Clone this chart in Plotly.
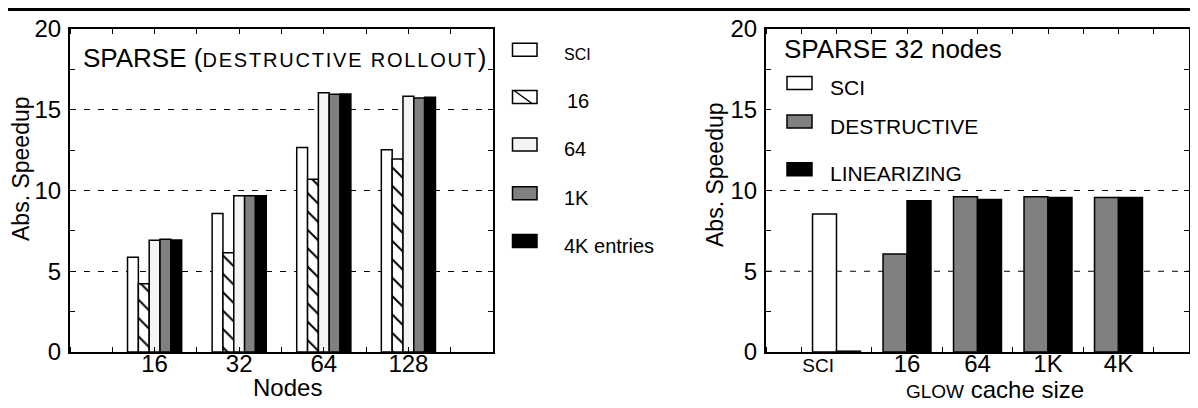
import plotly.graph_objects as go

W, H = 1198, 408
OFF = 8  # the page body adds an 8px margin around the figure
FONT = "Liberation Sans, Arial, sans-serif"

# ---------------- data ----------------
left_nodes = ["16", "32", "64", "128"]
left_names = ["SCI", "16", "64", "1K", "4K entries"]
left_sci = [5.86, 8.57, 12.67, 12.53]
left_g16 = [4.22, 6.15, 10.70, 11.95]
left_g64 = [6.92, 9.67, 16.05, 15.84]
left_g1k = [6.98, 9.67, 15.96, 15.73]
left_g4k = [6.94, 9.67, 15.98, 15.78]

right_cats = ["SCI", "16", "64", "1K", "4K"]
right_names = ["SCI", "DESTRUCTIVE", "LINEARIZING"]
right_sci = [8.54]
right_destructive = [6.07, 9.61, 9.61, 9.57]
right_linearizing = [0.05, 9.36, 9.44, 9.57, 9.57]

y_ticks = [0, 5, 10, 15, 20]
left_grid = [5, 10, 15]
right_grid = [5, 10]

# ---------------- helpers (page pixel -> paper) ----------------
def px(x):
    return (x - OFF) / W

def py(y):
    return 1 - (y - OFF) / H

fig = go.Figure()

# ---------------- left chart ----------------
lx = list(range(len(left_nodes)))
left_vals = [left_sci, left_g16, left_g64, left_g1k, left_g4k]
left_colors = ["white", "white", "#f4f4f4", "#808080", "black"]
group_w = 0.64
bw = group_w / len(left_vals)
for i, (name, vals, col) in enumerate(zip(left_names, left_vals, left_colors)):
    marker = dict(color=col, line=dict(color="black", width=1.5))
    if i == 1:
        marker["pattern"] = dict(shape="\\", fgcolor="black", bgcolor="white",
                                 size=13, solidity=0.15, fillmode="replace")
    fig.add_trace(go.Bar(x=lx, y=vals, name=name, width=bw,
                         offset=-group_w / 2 + i * bw, marker=marker,
                         xaxis="x", yaxis="y", showlegend=False))

# ---------------- right chart ----------------
rx = list(range(len(right_cats)))
rbw = 0.34
fig.add_trace(go.Bar(x=rx[:1], y=right_sci, name=right_names[0], width=rbw, offset=-rbw,
                     marker=dict(color="white", line=dict(color="black", width=1.5)),
                     xaxis="x2", yaxis="y2", showlegend=False))
fig.add_trace(go.Bar(x=rx[1:], y=right_destructive, name=right_names[1], width=rbw, offset=-rbw,
                     marker=dict(color="#808080", line=dict(color="black", width=1.5)),
                     xaxis="x2", yaxis="y2", showlegend=False))
fig.add_trace(go.Bar(x=rx, y=right_linearizing, name=right_names[2], width=rbw, offset=0,
                     marker=dict(color="black", line=dict(color="black", width=1.5)),
                     xaxis="x2", yaxis="y2", showlegend=False))

ydom = [py(352), py(29)]
tickfont = dict(family=FONT, size=24, color="black")

common_x = dict(showline=True, linecolor="black", linewidth=2, mirror="ticks",
                ticks="", showgrid=False, zeroline=False, tickfont=tickfont,
                automargin=False, ticklabelstandoff=-11,
                minor=dict(dtick=0.5, tick0=-0.5, ticks="inside", ticklen=5,
                           tickcolor="black", tickwidth=1, showgrid=False))
common_y = dict(showline=True, linecolor="black", linewidth=2, mirror="ticks",
                ticks="inside", ticklen=5, tickcolor="black", range=[0, 20],
                tickvals=y_ticks, zeroline=False, tickfont=tickfont, automargin=False,
                ticklabelstandoff=2,
                minor=dict(dtick=2.5, ticks="inside", ticklen=5, tickcolor="black",
                           showgrid=False))

fig.update_layout(
    width=W, height=H, autosize=False,
    margin=dict(l=0, r=0, t=0, b=0, pad=0, autoexpand=False),
    paper_bgcolor="white", plot_bgcolor="white",
    barmode="overlay",
    font=dict(family=FONT, color="black"),
    xaxis=dict(domain=[px(70), px(493)], range=[-1, len(left_nodes)],
               tickvals=lx, ticktext=left_nodes, anchor="y", **common_x),
    yaxis=dict(domain=ydom, anchor="x", showgrid=True, gridcolor="black",
               gridwidth=1, griddash="6px,8px", **common_y),
    xaxis2=dict(domain=[px(766), px(1189)], range=[-1, len(right_cats)],
                tickvals=[-0.26] + rx[1:],
                ticktext=['<span style="font-size:19px">' + right_cats[0] + '</span>'] + right_cats[1:],
                anchor="y2", **common_x),
    yaxis2=dict(domain=ydom, anchor="x2", showgrid=False, **common_y),
)

shapes = []
# top rule
shapes.append(dict(type="line", xref="paper", yref="paper", x0=px(8), x1=1, y0=py(9), y1=py(9),
                   line=dict(color="black", width=4)))
# right chart dashed grid
for g in right_grid:
    shapes.append(dict(type="line", xref="x2 domain", yref="y2", x0=0, x1=1, y0=g, y1=g,
                       layer="below", line=dict(color="black", width=1, dash="6px,8px")))

annotations = []
# left legend
left_leg_rows = [49.7, 97, 144.5, 193.3, 241]
left_leg_fill = ["white", "white", "#f4f4f4", "#808080", "black"]
left_leg_size = [16, 20, 20, 20, 20]
for i, (name, yc) in enumerate(zip(left_names, left_leg_rows)):
    shapes.append(dict(type="rect", xref="paper", yref="paper",
                       x0=px(512.5), x1=px(537), y0=py(yc - 6.5), y1=py(yc + 6.5),
                       fillcolor=left_leg_fill[i], line=dict(color="black", width=1.5)))
    if i == 1:
        shapes.append(dict(type="line", xref="paper", yref="paper",
                           x0=px(514), y0=py(yc - 6.5), x1=px(532), y1=py(yc + 6.5),
                           line=dict(color="black", width=1.5)))
    annotations.append(dict(text=name, xref="paper", yref="paper",
                            x=px(565 if i == 1 else 561.5), y=py(yc + 4.5),
                            xanchor="left", yanchor="middle", showarrow=False,
                            font=dict(size=left_leg_size[i], family=FONT, color="black")))

# right legend
right_leg_rows = [83, 121.5, 169.3]
right_leg_fill = ["white", "#808080", "black"]
for name, yc, col in zip(right_names, right_leg_rows, right_leg_fill):
    shapes.append(dict(type="rect", xref="paper", yref="paper",
                       x0=px(787), x1=px(812), y0=py(yc - 6.5), y1=py(yc + 6.5),
                       fillcolor=col, line=dict(color="black", width=1.5)))
    annotations.append(dict(text=name, xref="paper", yref="paper",
                            x=px(828), y=py(yc + 4.5), xanchor="left", yanchor="middle",
                            showarrow=False, font=dict(size=21, family=FONT, color="black")))

# titles
annotations.append(dict(
    text='SPARSE (<span style="font-size:20px;letter-spacing:1.8px">DESTRUCTIVE ROLLOUT</span>)',
    xref="paper", yref="paper", x=px(81), y=py(57.5), xanchor="left", yanchor="middle",
    showarrow=False, font=dict(size=26, family=FONT, color="black")))
annotations.append(dict(
    text="SPARSE 32 nodes", xref="paper", yref="paper", x=px(782), y=py(49.5),
    xanchor="left", yanchor="middle", showarrow=False,
    font=dict(size=26, family=FONT, color="black")))

# axis titles
for xc, yc in [(21, 169), (715, 175)]:
    annotations.append(dict(text="Abs. Speedup", xref="paper", yref="paper",
                            x=px(xc), y=py(yc), xanchor="center", yanchor="middle",
                            textangle=-90, showarrow=False, borderpad=0,
                            font=dict(size=23, family=FONT, color="black")))
annotations.append(dict(text="Nodes", xref="paper", yref="paper", x=px(287), y=py(387),
                        xanchor="center", yanchor="middle", showarrow=False,
                        font=dict(size=24, family=FONT, color="black")))
annotations.append(dict(text='<span style="font-size:19px">GLOW</span> cache size',
                        xref="paper", yref="paper", x=px(995), y=py(389),
                        xanchor="center", yanchor="middle", showarrow=False,
                        font=dict(size=24, family=FONT, color="black")))

fig.update_layout(shapes=shapes, annotations=annotations)
fig.write_html("out.html")
